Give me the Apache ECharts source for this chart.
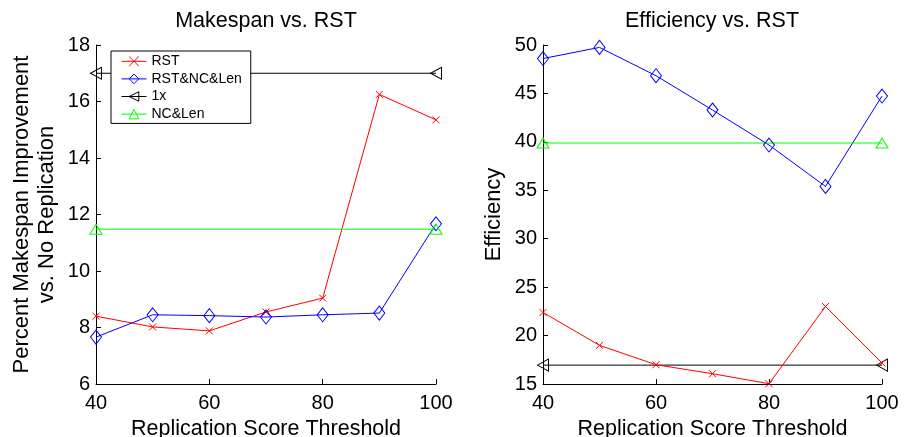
<!DOCTYPE html>
<html><head><meta charset="utf-8">
<script src="https://cdn.jsdelivr.net/npm/echarts@6/dist/echarts.min.js"></script>
<style>html,body{margin:0;padding:0;background:#fff}#c{width:909px;height:437px}</style>
</head><body><div id="c"></div>
<script>
const thresholds = [40, 50, 60, 70, 80, 90, 100];
const makespanRST = [8.40, 8.02, 7.88, 8.55, 9.04, 16.25, 15.35];
const makespanRSTNCLen = [7.66, 8.45, 8.42, 8.37, 8.45, 8.51, 11.67];
const makespan1x = [17.0, 17.0];
const makespanNCLen = [11.48, 11.48];
const effRST = [22.39, 18.99, 16.99, 16.06, 15.03, 23.0, 17.17];
const effRSTNCLen = [48.6, 49.75, 46.83, 43.29, 39.67, 35.4, 44.73];
const eff1x = [16.95, 16.95];
const effNCLen = [39.88, 39.88];
const refX = [40, 100];

const FONT = 'Liberation Sans';
const pair = (xs, ys) => xs.map((x, i) => [x, ys[i]]);
const SYM = {
  cross: 'path://M0,0L10,10M10,0L0,10',
  diamond: 'path://M5,0L10,7L5,14L0,7Z',
  left: 'path://M0,5L10,0L10,10Z',
  up: 'path://M5,0L10,9L0,9Z'
};
function ser(name, data, color, sym, size, gi, z) {
  return {
    name, type: 'line', xAxisIndex: gi, yAxisIndex: gi, data,
    symbol: sym, symbolSize: size, showAllSymbol: true,
    color: color, z: z || 2,
    lineStyle: { color, width: 1 },
    itemStyle: { color: 'none', borderColor: color, borderWidth: 1 },
    emphasis: { disabled: true },
    animation: false, silent: true
  };
}
function xAx(gi) {
  return {
    type: 'value', gridIndex: gi, min: 40, max: 100, interval: 20,
    name: 'Replication Score Threshold', nameLocation: 'middle', nameGap: 33,
    nameTextStyle: { fontFamily: FONT, fontSize: 21.5, color: '#000' },
    axisLine: { lineStyle: { color: '#000', width: 1 } },
    axisTick: { inside: true, length: 5, lineStyle: { color: '#000' } },
    axisLabel: { fontFamily: FONT, fontSize: 20, color: '#000', margin: 9 },
    splitLine: { show: false }
  };
}
function yAx(gi, min, max, interval, name, gap) {
  return {
    type: 'value', gridIndex: gi, min, max, interval,
    name, nameLocation: 'middle', nameGap: gap,
    nameTextStyle: { fontFamily: FONT, fontSize: 22, color: '#000', lineHeight: 25 },
    axisLine: { show: true, lineStyle: { color: '#000', width: 1 } },
    axisTick: { show: true, inside: true, length: 5, lineStyle: { color: '#000' } },
    axisLabel: { fontFamily: FONT, fontSize: 20, color: '#000', margin: 6 },
    splitLine: { show: false }
  };
}
const chart = echarts.init(document.getElementById('c'), null, { renderer: 'canvas' });
chart.setOption({
  backgroundColor: '#fff',
  animation: false,
  title: [
    { text: 'Makespan vs. RST', left: 266, top: 10, padding: 0, textAlign: 'center',
      textStyle: { fontFamily: FONT, fontSize: 21.5, fontWeight: 'normal', color: '#000' } },
    { text: 'Efficiency vs. RST', left: 712, top: 10, padding: 0, textAlign: 'center',
      textStyle: { fontFamily: FONT, fontSize: 21.5, fontWeight: 'normal', color: '#000' } }
  ],
  legend: {
    orient: 'vertical', left: 111, top: 51,
    data: ['RST', 'RST&NC&Len', '1x', 'NC&Len'],
    itemWidth: 25, itemHeight: 12, itemGap: 3,
    padding: [3, 9, 2, 10],
    backgroundColor: '#fff', borderColor: '#000', borderWidth: 1,
    itemStyle: { borderWidth: 1 },
    lineStyle: { width: 1 },
    textStyle: { fontFamily: FONT, fontSize: 14, color: '#000', lineHeight: 14 },
    selectedMode: false
  },
  grid: [
    { left: 96, right: 473, top: 45, bottom: 53, outerBoundsMode: 'none', containLabel: false },
    { left: 543, right: 27, top: 45, bottom: 53, outerBoundsMode: 'none', containLabel: false }
  ],
  xAxis: [xAx(0), xAx(1)],
  yAxis: [
    yAx(0, 6, 18, 2, 'Percent Makespan Improvement\nvs. No Replication', 37),
    yAx(1, 15, 50, 5, 'Efficiency', 37)
  ],
  series: [
    ser('RST', pair(thresholds, makespanRST), '#ff0000', SYM.cross, 7, 0),
    ser('RST&NC&Len', pair(thresholds, makespanRSTNCLen), '#0000ff', SYM.diamond, [11, 14], 0),
    ser('1x', pair(refX, makespan1x), '#000000', SYM.left, [11, 12], 0),
    ser('NC&Len', pair(refX, makespanNCLen), '#00ff00', SYM.up, [12, 10], 0),
    ser('RST&NC&Len', pair(thresholds, effRSTNCLen), '#0000ff', SYM.diamond, [11, 14], 1),
    ser('1x', pair(refX, eff1x), '#000000', SYM.left, [11, 12], 1),
    ser('NC&Len', pair(refX, effNCLen), '#00ff00', SYM.up, [12, 10], 1),
    ser('RST', pair(thresholds, effRST), '#ff0000', SYM.cross, 7, 1, 3)
  ]
});
</script></body></html>
